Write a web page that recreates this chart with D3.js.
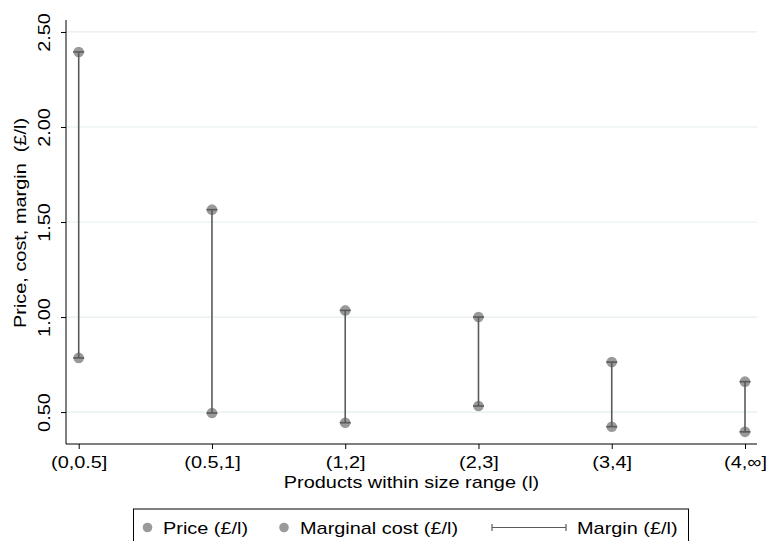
<!DOCTYPE html>
<html>
<head>
<meta charset="utf-8">
<script src="https://cdn.jsdelivr.net/npm/d3@7"></script>
<style>
  body { margin: 0; background: #fff; }
  text { font-family: "Liberation Sans", Arial, sans-serif; fill: #000; }
</style>
</head>
<body>
<div id="chart"></div>
<script>
// size ranges and values (£ per litre)
const categories = ["(0,0.5]", "(0.5,1]", "(1,2]", "(2,3]", "(3,4]", "(4,\u221e]"];
const price = [2.395, 1.565, 1.035, 1.0, 0.763, 0.66];
const marginalCost = [0.785, 0.495, 0.444, 0.532, 0.423, 0.396];
const yTicks = [0.5, 1.0, 1.5, 2.0, 2.5];

const W = 768, H = 541;
const fs = 17;     // font size
const sx = 1.17;   // the original's glyphs are a bit wide, stretch them
// plot region
const plotL = 66, plotR = 757, plotT = 20, plotB = 444;

// place a text at (px,py), optionally rotated, with the horizontal stretch
function place(sel, px, py, rot) {
    sel.attr("x", 0).attr("y", 0).attr("dy", 0)
        .attr("font-size", fs)
        .attr("transform", "translate(" + px + "," + py + ")" + (rot ? " rotate(" + rot + ")" : "") + " scale(" + sx + ",1)");
    return sel;
}

const svg = d3.select("#chart").append("svg")
    .attr("width", W)
    .attr("height", H);

const x = d3.scalePoint()
    .domain(categories)
    .range([78.7, 745]);

const y = d3.scaleLinear()
    .domain([0.332, 2.563])
    .range([plotB, plotT]);

// grid
svg.append("g")
    .selectAll("line")
    .data(yTicks)
    .join("line")
    .attr("x1", plotL).attr("x2", plotR)
    .attr("y1", d => y(d)).attr("y2", d => y(d))
    .attr("stroke", "#e4edf0")
    .attr("stroke-width", 1.2);

// y axis
const yAxis = svg.append("g")
    .attr("transform", "translate(" + plotL + ",0)")
    .call(d3.axisLeft(y).tickValues(yTicks).tickSize(5).tickFormat(d3.format(".2f")));
yAxis.select(".domain").attr("d", "M0," + plotT + "V" + plotB).attr("stroke", "#000");
yAxis.selectAll(".tick line").attr("stroke", "#000");
place(yAxis.selectAll(".tick text"), -16, 0, -90).attr("text-anchor", "middle");

// x axis
const xAxis = svg.append("g")
    .attr("transform", "translate(0," + plotB + ")")
    .call(d3.axisBottom(x).tickSize(5));
xAxis.select(".domain").attr("d", "M" + plotL + ",0H" + plotR).attr("stroke", "#000");
xAxis.selectAll(".tick line").attr("stroke", "#000");
place(xAxis.selectAll(".tick text"), 0, 24, 0).attr("text-anchor", "middle");
svg.selectAll(".tick text").style("font-family", "Liberation Sans, Arial, sans-serif").attr("fill", "#000");

// axis titles
place(svg.append("text"), (plotL + plotR) / 2, 488, 0)
    .attr("text-anchor", "middle")
    .text("Products within size range (l)");

place(svg.append("text"), 26, 223, -90)
    .attr("text-anchor", "middle")
    .style("white-space", "pre")
    .text("Price, cost, margin  (\u00a3/l)");

const rows = categories.map((c, i) => ({ c: c, p: price[i], mc: marginalCost[i] }));

// markers
const markerColor = "#9a9a9a";
svg.append("g").selectAll("circle.p")
    .data(rows).join("circle")
    .attr("cx", d => x(d.c)).attr("cy", d => y(d.p))
    .attr("r", 5.3).attr("fill", markerColor);
svg.append("g").selectAll("circle.mc")
    .data(rows).join("circle")
    .attr("cx", d => x(d.c)).attr("cy", d => y(d.mc))
    .attr("r", 5.3).attr("fill", markerColor);

// capped spikes for margin
const spike = svg.append("g").attr("stroke", "#5a5a5a").attr("stroke-width", 1.6);
spike.selectAll("line.v")
    .data(rows).join("line")
    .attr("x1", d => x(d.c)).attr("x2", d => x(d.c))
    .attr("y1", d => y(d.p)).attr("y2", d => y(d.mc));
spike.selectAll("line.cp")
    .data(rows).join("line")
    .attr("x1", d => x(d.c) - 5.5).attr("x2", d => x(d.c) + 5.5)
    .attr("y1", d => y(d.p)).attr("y2", d => y(d.p));
spike.selectAll("line.cm")
    .data(rows).join("line")
    .attr("x1", d => x(d.c) - 5.5).attr("x2", d => x(d.c) + 5.5)
    .attr("y1", d => y(d.mc)).attr("y2", d => y(d.mc));

// legend
const lg = svg.append("g");
const lgY = 527.5;
lg.append("rect")
    .attr("x", 133.5).attr("y", 509)
    .attr("width", 555).attr("height", 45)
    .attr("fill", "#fff").attr("stroke", "#000").attr("stroke-width", 1);
lg.append("circle").attr("cx", 147.5).attr("cy", lgY).attr("r", 4.8).attr("fill", markerColor);
place(lg.append("text"), 163, 533.5, 0).text("Price (\u00a3/l)");
lg.append("circle").attr("cx", 284).attr("cy", lgY).attr("r", 4.8).attr("fill", markerColor);
place(lg.append("text"), 300, 533.5, 0).text("Marginal cost (\u00a3/l)");
lg.append("line").attr("x1", 492).attr("x2", 566).attr("y1", lgY).attr("y2", lgY)
    .attr("stroke", "#5a5a5a").attr("stroke-width", 1.2);
lg.append("line").attr("x1", 492).attr("x2", 492).attr("y1", lgY - 3.5).attr("y2", lgY + 3.5)
    .attr("stroke", "#5a5a5a").attr("stroke-width", 1.2);
lg.append("line").attr("x1", 566).attr("x2", 566).attr("y1", lgY - 3.5).attr("y2", lgY + 3.5)
    .attr("stroke", "#5a5a5a").attr("stroke-width", 1.2);
place(lg.append("text"), 577, 533.5, 0).text("Margin (\u00a3/l)");
</script>
</body>
</html>
